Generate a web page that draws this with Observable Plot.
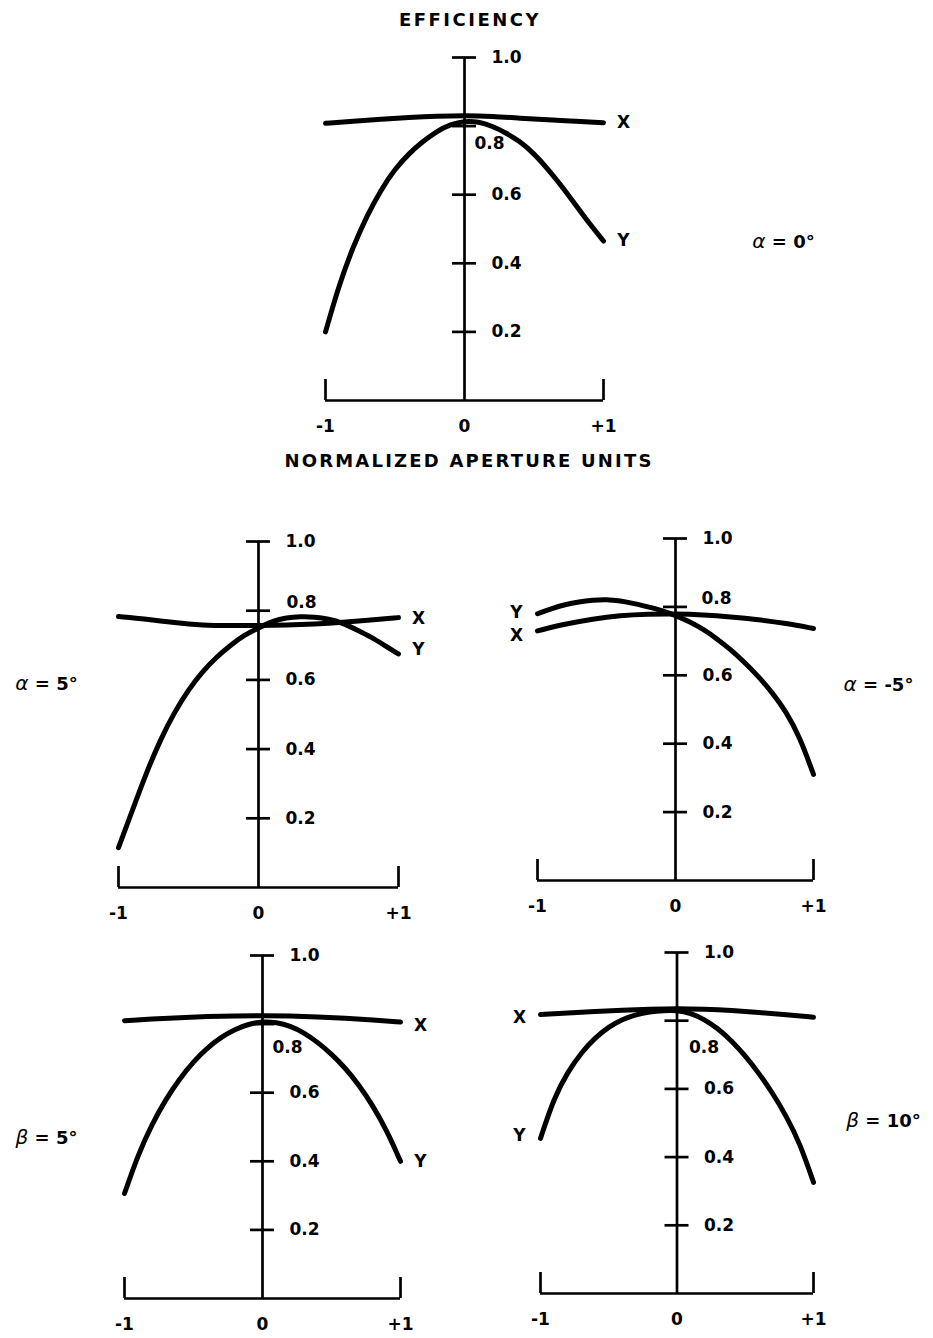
<!DOCTYPE html>
<html>
<head>
<meta charset="utf-8">
<script src="https://cdn.jsdelivr.net/npm/d3@7"></script>
<script src="https://cdn.jsdelivr.net/npm/@observablehq/plot@0.6"></script>
<style>
  html, body { margin: 0; padding: 0; background: #fff; overflow: hidden; }
  #page { position: relative; width: 933px; height: 1338px; font-family: "DejaVu Sans", sans-serif; color: #000; }
  #page svg { position: absolute; left: 0; }
  .heading { position: absolute; transform: translate(-50%, -50%); white-space: nowrap;
             font-weight: bold; font-size: 18px; }
</style>
</head>
<body>
<div id="page"></div>
<script>
// Aperture positions (normalized units) at which the curves were sampled
const apertureFine = [-1, -0.9, -0.8, -0.7, -0.6, -0.5, -0.4, -0.3, -0.2, -0.1, 0,
                      0.1, 0.2, 0.3, 0.4, 0.5, 0.6, 0.7, 0.8, 0.9, 1];
const apertureCoarse = [-1, -0.8, -0.6, -0.4, -0.2, 0, 0.2, 0.4, 0.6, 0.8, 1];

// Axis ticks
const efficiencyTicks = [0.2, 0.4, 0.6, 0.8, 1.0];
const apertureTicks = [-1, 0, 1];
const apertureTickLabels = ["-1", "0", "+1"];

// Efficiency across the aperture, X cut (coarse grid) and Y cut (fine grid)
const alpha0X = [0.808, 0.814, 0.820, 0.825, 0.829, 0.831, 0.829, 0.823, 0.818, 0.814, 0.810];
const alpha0Y = [0.20, 0.34, 0.45, 0.54, 0.615, 0.675, 0.72, 0.755, 0.785, 0.805, 0.815,
                 0.813, 0.80, 0.78, 0.755, 0.72, 0.675, 0.625, 0.57, 0.515, 0.465];

const alpha5X = [0.783, 0.776, 0.765, 0.758, 0.757, 0.757, 0.758, 0.761, 0.766, 0.773, 0.780];
const alpha5Y = [0.115, 0.224, 0.333, 0.428, 0.507, 0.572, 0.624, 0.666, 0.70, 0.73, 0.75,
                 0.77, 0.78, 0.783, 0.782, 0.776, 0.765, 0.745, 0.725, 0.70, 0.675];

const alphaM5X = [0.730, 0.750, 0.765, 0.775, 0.779, 0.780, 0.777, 0.771, 0.763, 0.752, 0.737];
const alphaM5Y = [0.78, 0.795, 0.807, 0.815, 0.82, 0.822, 0.818, 0.81, 0.80, 0.79, 0.775,
                  0.757, 0.735, 0.707, 0.675, 0.638, 0.597, 0.55, 0.495, 0.42, 0.31];

const beta5X = [0.810, 0.815, 0.819, 0.822, 0.824, 0.825, 0.824, 0.821, 0.817, 0.812, 0.806];
const beta5Y = [0.306, 0.421, 0.509, 0.581, 0.641, 0.691, 0.731, 0.762, 0.785, 0.80, 0.808,
                0.805, 0.795, 0.775, 0.747, 0.713, 0.672, 0.622, 0.562, 0.49, 0.40];

const beta10X = [0.818, 0.823, 0.827, 0.831, 0.834, 0.836, 0.834, 0.830, 0.824, 0.818, 0.810];
const beta10Y = [0.455, 0.575, 0.65, 0.707, 0.75, 0.782, 0.804, 0.818, 0.826, 0.83, 0.831,
                 0.822, 0.804, 0.777, 0.741, 0.697, 0.646, 0.588, 0.521, 0.441, 0.326];

// Panel captions
const panelTags = ["α = 0°", "α = 5°", "α = -5°", "β = 5°", "β = 10°"];

// Page layout of each panel: frame edges in page pixels, where the series
// names sit, where the caption goes, and how the crowded 0.8 label is nudged.
const layouts = [
  {left: 325, right: 603, top: 57,  bottom: 400,  side: "right", xDy: 0,  yDy: 0,  tagAnchor: "right", tagDx: 180, tagDy: 13,  shiftDx: 10, shiftDy: 17},
  {left: 118, right: 398, top: 541, bottom: 887,  side: "right", xDy: 1,  yDy: -4, tagAnchor: "left",  tagDx: -72, tagDy: -30, shiftDx: 28, shiftDy: -8},
  {left: 537, right: 813, top: 538, bottom: 880,  side: "left",  xDy: 5,  yDy: -1, tagAnchor: "right", tagDx: 65,  tagDy: -24, shiftDx: 26, shiftDy: -8},
  {left: 124, right: 400, top: 955, bottom: 1298, side: "right", xDy: 4,  yDy: 0,  tagAnchor: "left",  tagDx: -78, tagDy: 11,  shiftDx: 10, shiftDy: 23},
  {left: 540, right: 813, top: 952, bottom: 1293, side: "left",  xDy: 3,  yDy: -3, tagAnchor: "right", tagDx: 70,  tagDy: -2,  shiftDx: 12, shiftDy: 27}
];

const seriesX = [alpha0X, alpha5X, alphaM5X, beta5X, beta10X];
const seriesY = [alpha0Y, alpha5Y, alphaM5Y, beta5Y, beta10Y];

const page = document.getElementById("page");
const PAGE_W = 933;
const axisStroke = 2.7;
const font = {fontFamily: "DejaVu Sans, sans-serif", fontWeight: "bold", fill: "black"};

function drawPanel(i) {
  const cfg = layouts[i];
  const rows = [
    ...apertureCoarse.map((a, k) => ({series: "X", a, e: seriesX[i][k]})),
    ...apertureFine.map((a, k) => ({series: "Y", a, e: seriesY[i][k]}))
  ];
  const endOf = s => {
    const pts = rows.filter(r => r.series === s);
    return cfg.side === "right" ? pts[pts.length - 1] : pts[0];
  };
  const nameDx = cfg.side === "right" ? 20 : -21;
  const shiftTick = 0.8;
  const mt = 30, mb = cfg.bottom > 1200 ? 38 : 45;

  const svg = Plot.plot({
    width: PAGE_W,
    height: mt + (cfg.bottom - cfg.top) + mb,
    marginLeft: cfg.left,
    marginRight: PAGE_W - cfg.right,
    marginTop: mt,
    marginBottom: mb,
    x: {domain: d3.extent(apertureTicks), axis: null},
    y: {domain: [0, d3.max(efficiencyTicks)], axis: null},
    style: {background: "transparent", overflow: "visible", fontFamily: "DejaVu Sans, sans-serif"},
    marks: [
      // vertical efficiency axis through the aperture centre, with cross ticks
      Plot.ruleX([0], {y1: 0, y2: d3.max(efficiencyTicks), stroke: "black", strokeWidth: axisStroke}),
      Plot.ruleY(efficiencyTicks, {y: d => d, x1: 0, x2: 0, insetLeft: -12, insetRight: -12,
                                   stroke: "black", strokeWidth: axisStroke}),
      // bracket-shaped aperture axis
      Plot.ruleY([0], {x1: d3.min(apertureTicks), x2: d3.max(apertureTicks), stroke: "black", strokeWidth: axisStroke}),
      Plot.ruleX(d3.extent(apertureTicks), {x: d => d, y1: 0, y2: 0, insetBottom: 21,
                                            stroke: "black", strokeWidth: axisStroke}),
      // efficiency curves
      Plot.line(rows, {x: "a", y: "e", z: "series", curve: "basis", stroke: "black",
                       strokeWidth: 5, strokeLinecap: "round", strokeLinejoin: "round"}),
      // tick labels
      Plot.text(efficiencyTicks.filter(t => t !== shiftTick), {x: 0, y: d => d, text: d => d.toFixed(1),
        dx: 27, textAnchor: "start", fontSize: 17, ...font}),
      Plot.text([shiftTick], {x: 0, y: d => d, text: d => d.toFixed(1),
        dx: cfg.shiftDx, dy: cfg.shiftDy, textAnchor: "start", fontSize: 17, ...font}),
      Plot.text(apertureTicks, {x: d => d, y: 0, text: (d, k) => apertureTickLabels[k],
        dy: 26, fontSize: 17, ...font}),
      // series names at the curve ends
      Plot.text([endOf("X")], {x: "a", y: "e", text: "series", dx: nameDx, dy: cfg.xDy, fontSize: 17, ...font}),
      Plot.text([endOf("Y")], {x: "a", y: "e", text: "series", dx: nameDx, dy: cfg.yDy, fontSize: 17, ...font}),
      // panel caption
      Plot.text([panelTags[i]], {frameAnchor: cfg.tagAnchor, text: d => d, dx: cfg.tagDx, dy: cfg.tagDy,
        textAnchor: "middle", fontSize: 18, ...font, className: "tag"})
    ]
  });
  svg.style.top = (cfg.top - mt) + "px";

  // set the Greek letter of the caption in italics
  svg.querySelectorAll(".tag text").forEach(t => {
    const s = t.textContent;
    t.textContent = "";
    const g = document.createElementNS("http://www.w3.org/2000/svg", "tspan");
    g.setAttribute("font-style", "italic");
    g.setAttribute("font-weight", "normal");
    g.setAttribute("font-size", "20");
    g.textContent = s.slice(0, 1);
    t.appendChild(g);
    t.appendChild(document.createTextNode(s.slice(1)));
  });
  page.appendChild(svg);
}

layouts.forEach((_, i) => drawPanel(i));

// headings above and below the first panel
function heading(text, x, y, spacing) {
  const d = document.createElement("div");
  d.className = "heading";
  d.textContent = text;
  d.style.left = x + "px";
  d.style.top = y + "px";
  d.style.letterSpacing = spacing + "px";
  page.appendChild(d);
}
heading("EFFICIENCY", 470, 19, 2.5);
heading("NORMALIZED APERTURE UNITS", 469, 460, 2.2);
</script>
</body>
</html>
